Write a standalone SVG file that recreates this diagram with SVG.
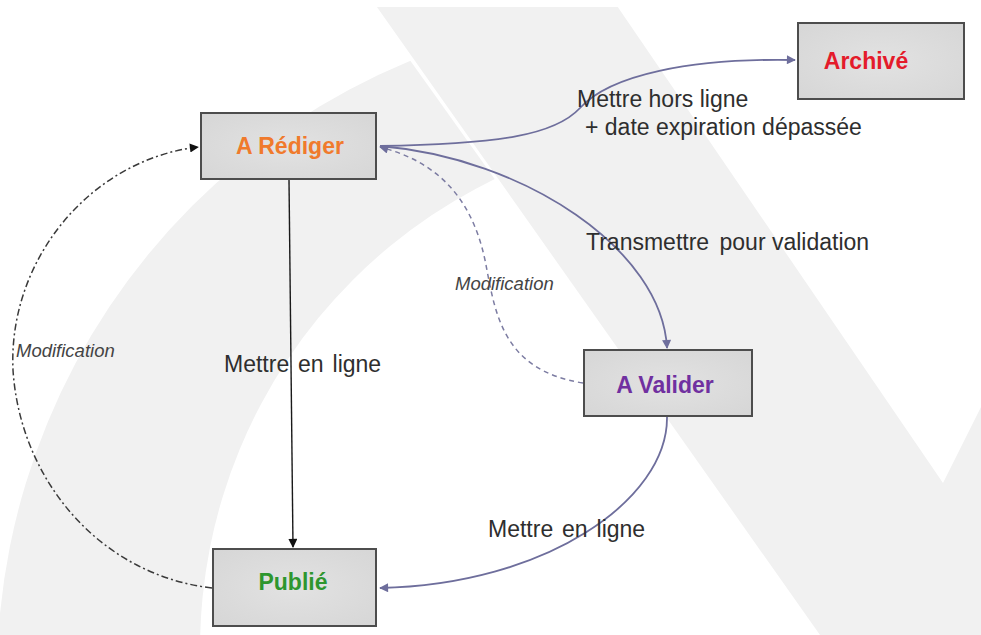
<svg xmlns="http://www.w3.org/2000/svg" width="981" height="635" viewBox="0 0 981 635">
  <defs>
    <style>
      .box { fill: url(#boxfill); stroke: #4d4d4d; stroke-width: 2; }
      .nlabel { font-family: "Liberation Sans", Arial, sans-serif; font-weight: bold; font-size: 23px; text-anchor: middle; }
      .elabel { font-family: "Liberation Sans", Arial, sans-serif; font-size: 23px; fill: #2e2e2e; }
      .mlabel { font-family: "Liberation Sans", Arial, sans-serif; font-style: italic; font-size: 18.5px; fill: #444444; }
      .purple { fill: none; stroke: #6e6e9c; stroke-width: 1.8; }
      .pdash { fill: none; stroke: #7c7ca2; stroke-width: 1.5; stroke-dasharray: 5 4; }
      .black { fill: none; stroke: #1a1a1a; stroke-width: 1.4; }
      .dashdot { fill: none; stroke: #3a3a3a; stroke-width: 1.5; stroke-dasharray: 7 3 2 3; }
      .wm { fill: #f1f1f1; }
    </style>
    <radialGradient id="boxfill" cx="0.5" cy="0.5" r="0.7">
      <stop offset="0" stop-color="#e2e2e2"/>
      <stop offset="1" stop-color="#d6d6d6"/>
    </radialGradient>
    <marker id="arrP" viewBox="0 0 10 10" refX="9" refY="5" markerWidth="11" markerHeight="9" markerUnits="userSpaceOnUse" orient="auto">
      <path d="M0,0 L10,5 L0,10 Z" fill="#6e6e9c"/>
    </marker>
    <marker id="arrK" viewBox="0 0 10 10" refX="9" refY="5" markerWidth="11" markerHeight="9" markerUnits="userSpaceOnUse" orient="auto">
      <path d="M0,0 L10,5 L0,10 Z" fill="#111111"/>
    </marker>
    <clipPath id="leftOfBand">
      <polygon points="0,7 372,7 820,635 0,635"/>
    </clipPath>
    <clipPath id="canvasTop">
      <rect x="0" y="7" width="981" height="628"/>
    </clipPath>
  </defs>

  <rect x="0" y="0" width="981" height="635" fill="#ffffff"/>

  <!-- background watermark -->
  <g id="watermark" clip-path="url(#canvasTop)">
    <path class="wm" clip-path="url(#leftOfBand)" fill-rule="evenodd"
          d="M 663 677 m -666 0 a 666 666 0 1 0 1332 0 a 666 666 0 1 0 -1332 0 Z
             M 722 649 m -522 0 a 522 522 0 1 0 1044 0 a 522 522 0 1 0 -1044 0 Z"/>
    <polygon class="wm" points="372,0 613,0 943,483 981,407 981,635 820,635"/>
  </g>

  <!-- connectors -->
  <g id="connectors">
    <path class="purple" d="M 380 146 C 500 144, 555 135, 580 108 C 610 75, 690 58, 795 60" marker-end="url(#arrP)"/>
    <path class="purple" d="M 380 146 C 525 158, 662 250, 667 348" marker-end="url(#arrP)"/>
    <path class="purple" d="M 667 417 C 668 500, 545 585, 380 588" marker-end="url(#arrP)"/>
    <path class="pdash" d="M 583 383 C 500 370, 495 310, 485 260 C 470 190, 430 160, 380 147" marker-end="url(#arrP)"/>
    <path class="black" d="M 289 180 L 293 547" marker-end="url(#arrK)"/>
    <path class="dashdot" d="M 212 588 C 100 575, 20 480, 13 370 C 8 260, 90 160, 198 147" marker-end="url(#arrK)"/>

    <text class="elabel" x="577" y="107">Mettre hors ligne</text>
    <text class="elabel" x="585" y="135">+ date expiration dépassée</text>
    <text class="elabel" x="586" y="250">Transmettre<tspan dx="4"> pour validation</tspan></text>
    <text class="elabel" x="224" y="372" word-spacing="2.5">Mettre en ligne</text>
    <text class="elabel" x="488" y="537" word-spacing="2.5">Mettre en ligne</text>
    <text class="mlabel" x="455" y="290">Modification</text>
    <text class="mlabel" x="16" y="357">Modification</text>
  </g>

  <!-- nodes -->
  <g id="node-a-rediger">
    <rect class="box" x="201" y="113" width="175" height="66"/>
    <text class="nlabel" x="290" y="154" fill="#f07a2c">A Rédiger</text>
  </g>
  <g id="node-archive">
    <rect class="box" x="798" y="23" width="166" height="76"/>
    <text class="nlabel" x="866" y="69" fill="#e41b2b">Archivé</text>
  </g>
  <g id="node-a-valider">
    <rect class="box" x="584" y="350" width="168" height="66"/>
    <text class="nlabel" x="665" y="393" fill="#7030a0">A Valider</text>
  </g>
  <g id="node-publie">
    <rect class="box" x="213" y="549" width="163" height="77"/>
    <text class="nlabel" x="293" y="590" fill="#2e962e">Publié</text>
  </g>
</svg>
